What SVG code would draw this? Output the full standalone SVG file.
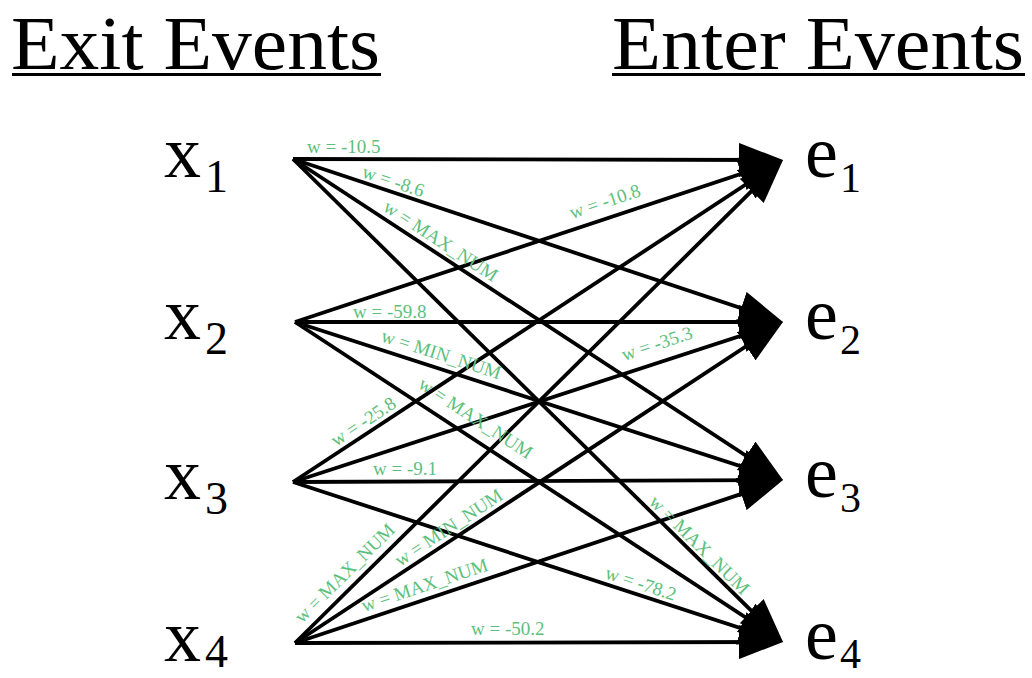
<svg xmlns="http://www.w3.org/2000/svg" width="1032" height="678" viewBox="0 0 1032 678">
<style>
.title{font-family:"Liberation Serif","Times New Roman",serif;font-size:77px;fill:#000}
.ul{stroke:#000;stroke-width:3}
.var{font-family:"Liberation Serif","Times New Roman",serif;font-size:74px;fill:#000}
.sub{font-family:"Liberation Serif","Times New Roman",serif;font-size:46px;fill:#000}
.esub{font-family:"Liberation Serif","Times New Roman",serif;font-size:42px;fill:#000}
.edge{stroke:#000;stroke-width:3.8;fill:none;marker-end:url(#ah)}
.w{font-family:"Liberation Serif","Times New Roman",serif;font-size:19px;fill:#5dbf7c}
</style>
<defs>
<marker id="ah" markerUnits="userSpaceOnUse" markerWidth="44" markerHeight="34" refX="34" refY="17" orient="auto" viewBox="0 0 44 34">
<path d="M0,0 L44,17 L0,34 z" fill="#000"/>
</marker>
</defs>
<rect width="1032" height="678" fill="#fff"/>
<g id="title-exit"><text class="title" x="11" y="69" textLength="369" lengthAdjust="spacingAndGlyphs">Exit Events</text><line class="ul" x1="12" y1="74.5" x2="381" y2="74.5"/></g>
<g id="title-enter"><text class="title" x="612" y="69" textLength="412" lengthAdjust="spacingAndGlyphs">Enter Events</text><line class="ul" x1="612" y1="74.5" x2="1025" y2="74.5"/></g>
<g id="connectors">
<line class="edge" x1="293" y1="159" x2="773" y2="160"/>
<line class="edge" x1="293" y1="159" x2="773.5" y2="318.8"/>
<line class="edge" x1="293" y1="159" x2="774.6" y2="474.5"/>
<line class="edge" x1="293" y1="159" x2="775.9" y2="635"/>
<line class="edge" x1="295" y1="322" x2="773.5" y2="163.2"/>
<line class="edge" x1="295" y1="322" x2="773" y2="322"/>
<line class="edge" x1="295" y1="322" x2="773.5" y2="476.9"/>
<line class="edge" x1="295" y1="322" x2="774.6" y2="636.5"/>
<line class="edge" x1="293" y1="482" x2="774.6" y2="165.5"/>
<line class="edge" x1="293" y1="482" x2="773.5" y2="325.1"/>
<line class="edge" x1="293" y1="482" x2="773" y2="480"/>
<line class="edge" x1="293" y1="482" x2="773.5" y2="638.9"/>
<line class="edge" x1="295" y1="643" x2="775.9" y2="167"/>
<line class="edge" x1="295" y1="643" x2="774.6" y2="327.5"/>
<line class="edge" x1="295" y1="643" x2="773.5" y2="483.2"/>
<line class="edge" x1="295" y1="643" x2="773" y2="642"/>
<text class="w" x="307" y="153">w = -10.5</text>
<text class="w" transform="translate(361,177) rotate(18.4)">w = -8.6</text>
<text class="w" transform="translate(382,210) rotate(33.2)">w = MAX_NUM</text>
<text class="w" transform="translate(648,503) rotate(44.6)">w = MAX_NUM</text>
<text class="w" transform="translate(572,219) rotate(-18.4)">w = -10.8</text>
<text class="w" x="353" y="318">w = -59.8</text>
<text class="w" transform="translate(380,341) rotate(17.9)">w = MIN_NUM</text>
<text class="w" transform="translate(417,387) rotate(33.3)">w = MAX_NUM</text>
<text class="w" transform="translate(336,447) rotate(-33.3)">w = -25.8</text>
<text class="w" transform="translate(624,361) rotate(-18.1)">w = -35.3</text>
<text class="w" x="373" y="475">w = -9.1</text>
<text class="w" transform="translate(604,578) rotate(18.1)">w = -78.2</text>
<text class="w" transform="translate(302,624) rotate(-44.7)">w = MAX_NUM</text>
<text class="w" transform="translate(400,567) rotate(-33.3)">w = MIN_NUM</text>
<text class="w" transform="translate(364,612) rotate(-18.5)">w = MAX_NUM</text>
<text class="w" x="471" y="635">w = -50.2</text>
</g>
<g id="x1"><text class="var" x="164" y="177">x</text><text class="sub" x="205" y="192">1</text></g>
<g id="x2"><text class="var" x="164" y="339">x</text><text class="sub" x="205" y="354">2</text></g>
<g id="x3"><text class="var" x="164" y="499">x</text><text class="sub" x="205" y="514">3</text></g>
<g id="x4"><text class="var" x="164" y="661">x</text><text class="sub" x="205" y="667">4</text></g>
<g id="e1"><text class="var" x="805" y="177">e</text><text class="esub" x="840" y="192">1</text></g>
<g id="e2"><text class="var" x="805" y="339">e</text><text class="esub" x="840" y="354">2</text></g>
<g id="e3"><text class="var" x="805" y="497">e</text><text class="esub" x="840" y="512">3</text></g>
<g id="e4"><text class="var" x="805" y="659">e</text><text class="esub" x="840" y="668">4</text></g>
</svg>
